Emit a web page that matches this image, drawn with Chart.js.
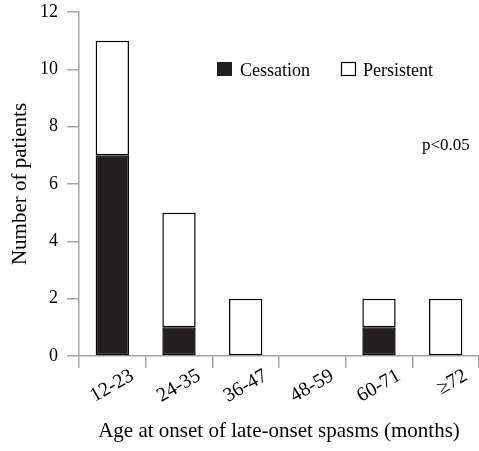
<!DOCTYPE html>
<html>
<head>
<meta charset="utf-8">
<script src="https://cdn.jsdelivr.net/npm/chart.js@4.4.0/dist/chart.umd.min.js"></script>
<style>
  html, body { margin: 0; padding: 0; background: #fff; }
  #wrap { width: 479px; height: 451px; }
</style>
</head>
<body>
<div id="wrap"><canvas id="chart" width="479" height="451"></canvas></div>
<script>
var categories = ['12-23', '24-35', '36-47', '48-59', '60-71', '\u226572'];
var cessation = [7, 1, 0, 0, 1, 0];
var persistent = [4, 4, 2, 0, 1, 2];
var seriesNames = ['Cessation', 'Persistent'];
var yTicks = [0, 2, 4, 6, 8, 10, 12];
var pText = 'p<0.05';

var serif = "'Liberation Serif', 'Times New Roman', serif";
var axisGray = '#a3a3a3';
var barBlack = '#231f20';

Chart.defaults.font.family = serif;
Chart.defaults.font.size = 18;
Chart.defaults.color = '#000';

function zeroless(ctx) {
  var v = ctx.raw;
  return v ? 1.5 : 0;
}

// legend + p value drawn inside the plot
var notes = {
  id: 'notes',
  afterDraw: function(chart) {
    var c = chart.ctx;
    c.save();
    c.font = '18px ' + serif;
    c.textBaseline = 'alphabetic';
    c.lineWidth = 1.2;
    // Cessation
    c.fillStyle = barBlack;
    c.fillRect(217, 62, 15, 14);
    c.fillStyle = '#000';
    c.fillText(seriesNames[0], 240, 76);
    // Persistent
    c.strokeStyle = '#000';
    c.strokeRect(341.5, 62.5, 14, 13);
    c.fillText(seriesNames[1], 363, 76);
    // p value
    c.font = '17px ' + serif;
    c.fillText(pText, 422, 150);
    c.restore();
  }
};

var ctx = document.getElementById('chart');
var myChart = new Chart(ctx, {
  type: 'bar',
  data: {
    labels: categories,
    datasets: [
      {
        label: seriesNames[0],
        data: cessation,
        backgroundColor: barBlack,
        borderColor: '#000',
        borderWidth: zeroless,
        borderSkipped: false,
        barPercentage: 0.5,
        categoryPercentage: 1.0
      },
      {
        label: seriesNames[1],
        data: persistent,
        backgroundColor: '#fff',
        borderColor: '#000',
        borderWidth: zeroless,
        borderSkipped: false,
        barPercentage: 0.5,
        categoryPercentage: 1.0
      }
    ]
  },
  options: {
    responsive: false,
    animation: false,
    layout: { padding: { top: 12, right: 0, left: 0, bottom: 0 } },
    plugins: {
      legend: { display: false },
      tooltip: { enabled: false }
    },
    scales: {
      x: {
        stacked: true,
        offset: true,
        afterFit: function(s) { s.height = 95; s.paddingLeft = 0; s.paddingRight = 0; },
        border: { display: true, color: axisGray, width: 1.5 },
        grid: { display: true, drawOnChartArea: false, drawTicks: true, tickLength: 12, color: axisGray, lineWidth: 1.5, offset: true },
        ticks: {
          color: '#000',
          font: { family: serif, size: 20 },
          maxRotation: 30,
          minRotation: 30,
          labelOffset: 20,
          padding: -4
        },
        title: {
          display: true,
          text: 'Age at onset of late-onset spasms (months)',
          color: '#000',
          font: { family: serif, size: 21 },
          padding: { top: 0, bottom: 7 }
        }
      },
      y: {
        stacked: true,
        min: 0,
        max: 12,
        afterFit: function(s) { s.width = 79; s.paddingTop = 0; s.paddingBottom = 0; },
        afterBuildTicks: function(s) {
          s.ticks = yTicks.map(function(v) { return { value: v }; });
        },
        border: { display: true, color: axisGray, width: 1.5 },
        grid: { display: true, drawOnChartArea: false, drawTicks: true, tickLength: 12, color: axisGray, lineWidth: 1.5 },
        ticks: {
          color: '#000',
          font: { family: serif, size: 18 },
          padding: 9
        },
        title: {
          display: true,
          text: 'Number of patients',
          color: '#000',
          font: { family: serif, size: 21 },
          padding: { top: 8, bottom: 0 }
        }
      }
    }
  },
  plugins: [notes]
});
</script>
</body>
</html>
